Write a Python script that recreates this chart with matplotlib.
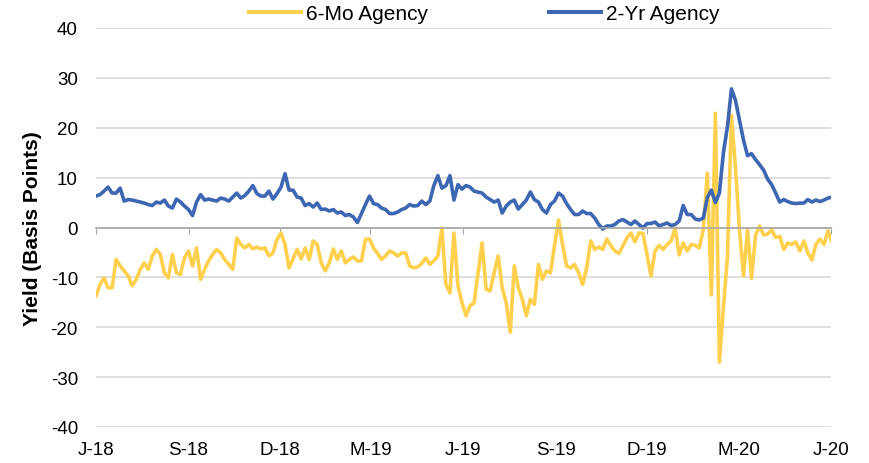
from matplotlib import pyplot as plt
import matplotlib.dates as mdates
import numpy as np
import pandas as pd

plt.rcParams['font.family'] = ['Liberation Sans', 'DejaVu Sans']
plt.rcParams['axes.unicode_minus'] = False

# spread values (bp), one point every 4 days from 1 Jun 2018
six_mo = [
    -13.7, -11.4, -10.1, -12.1, -12.1, -6.4, -7.7, -8.7, -9.7, -11.7,
    -10.4, -8.4, -7.1, -8.4, -5.7, -4.4, -5.4, -9.1, -10.1, -5.4,
    -9.1, -9.4, -6.1, -4.7, -7.7, -4.1, -10.4, -8.4, -6.7, -5.4,
    -4.4, -5.1, -6.4, -7.4, -8.4, -2.1, -3.4,
    -4.1, -3.4, -4.3, -3.9, -4.3, -4.1, -5.7, -5.1, -2.4, -1.1,
    -3.4, -8.1, -6.3, -4.4, -6.3, -4.1, -6.4, -2.7, -3.4, -7.1,
    -8.7, -7.1, -4.3, -6.4, -4.7, -7.1, -6.4, -5.9, -6.7, -6.7,
    -2.4, -2.3, -4.1, -5.2, -6.4, -5.7,
    -4.7, -5.1, -5.7, -5.1, -5.1, -7.7, -8.1, -7.9, -7.2, -6.1,
    -7.4, -6.7, -5.7, -0.1, -11.4, -13.1, -1.1, -11.7, -15.1, -17.7,
    -15.7, -15.1, -9.1, -3.1, -12.4, -12.7, -9.1, -5.7, -12.1, -15.1,
    -21.0, -7.7, -12.1, -14.4, -17.7, -14.4,
    -15.4, -7.4, -10.4, -8.7, -9.1, -3.7, 1.5, -3.4, -7.7, -8.1,
    -7.4, -9.1, -11.4, -8.1, -2.7, -4.4, -3.9, -4.4, -2.3, -3.6,
    -4.7, -5.2, -3.7, -2.1, -1.1, -2.9, -1.1, -1.2, -5.4, -9.7,
    -4.7, -3.6, -4.4, -3.4, -2.7, -0.1,
    -5.5, -3.1, -4.7, -3.4, -3.6, -4.1, -0.4, 10.9, -13.5, 22.9,
    -27.0, -16.0, -6.0, 22.5, 12.0, -0.5, -9.7, -0.5, -10.2, -1.5,
    0.3, -1.5, -1.3, -0.5, -2.0, -1.8, -4.4, -3.1, -3.4, -2.9,
    -4.7, -2.7, -5.1, -6.5, -3.4, -2.3, -3.4, -0.7, -2.9,
]

two_yr = [
    6.3, 6.6, 7.3, 8.1, 6.9, 6.9, 7.9, 5.3, 5.6, 5.5,
    5.3, 5.1, 4.9, 4.6, 4.4, 5.1, 4.9, 5.5, 4.3, 3.9,
    5.7, 5.1, 4.3, 3.6, 2.4, 5.1, 6.6, 5.5, 5.7, 5.5,
    5.3, 5.9, 5.7, 5.3, 6.1, 6.9, 5.9,
    6.4, 7.3, 8.4, 6.8, 6.3, 6.3, 7.3, 5.7, 6.8, 8.1,
    10.8, 7.5, 7.5, 6.1, 5.9, 4.4, 4.8, 4.1, 4.9, 3.6,
    3.7, 3.3, 3.6, 2.9, 3.1, 2.4, 2.6, 2.1, 1.0, 2.8,
    4.6, 6.3, 4.8, 4.6, 3.9, 3.6,
    2.8, 2.8, 3.1, 3.6, 3.9, 4.6, 4.3, 4.4, 5.3, 4.6,
    5.3, 8.4, 10.4, 7.9, 8.4, 10.4, 5.5, 8.6, 7.7, 8.4,
    8.1, 7.3, 7.1, 6.9, 6.1, 5.6, 5.1, 5.5, 2.9, 4.3,
    5.1, 5.5, 3.7, 4.6, 5.5, 7.1,
    5.6, 5.1, 3.6, 2.9, 4.6, 5.3, 6.9, 6.3, 4.8, 3.6,
    2.6, 2.6, 3.3, 2.8, 2.8, 1.9, 0.6, -0.3, 0.3, 0.3,
    0.6, 1.3, 1.6, 1.1, 0.6, 1.3, 0.6, -0.1, 0.8, 0.8,
    1.1, 0.3, 0.6, 0.9, 0.4, 0.6,
    1.3, 4.4, 2.6, 2.6, 1.7, 1.5, 1.9, 6.0, 7.5, 5.0,
    6.9, 15.0, 20.2, 27.8, 25.5, 21.5, 17.5, 14.4, 14.8, 13.6,
    12.6, 11.5, 9.7, 8.6, 6.9, 5.1, 5.6, 5.2, 4.9, 4.8,
    4.9, 4.9, 5.6, 5.1, 5.5, 5.2, 5.5, 5.9, 6.1,
]

dates = pd.date_range('2018-06-01', periods=len(two_yr), freq='4D')

tick_dates = pd.to_datetime(['2018-06-01', '2018-09-01', '2018-12-01', '2019-03-01',
                             '2019-06-01', '2019-09-01', '2019-12-01', '2020-03-01',
                             '2020-06-01'])
tick_labels = ['J-18', 'S-18', 'D-18', 'M-19', 'J-19', 'S-19', 'D-19', 'M-20', 'J-20']

fig = plt.figure(figsize=(8.7, 4.64), dpi=100)
ax = fig.add_axes([96/870, 1 - 428/464, 735/870, 399/464])

ax.plot(dates, six_mo, color='#FFD04E', lw=2.6, label='6-Mo Agency')
ax.plot(dates, two_yr, color='#3D66B3', lw=2.6, label='2-Yr Agency')

ax.set_ylim(-40, 40)
ax.set_yticks(np.arange(-40, 41, 10))
ax.set_xlim(pd.Timestamp('2018-06-01'), pd.Timestamp('2020-06-01'))
ax.grid(True, axis='y', color='#d9d9d9', lw=1.2)
ax.set_axisbelow(True)
for s in ['top', 'right', 'left']:
    ax.spines[s].set_visible(False)
ax.spines['bottom'].set_position(('data', 0))
ax.spines['bottom'].set_color('#a6a6a6')
ax.spines['bottom'].set_linewidth(1.2)

ax.set_xticks(tick_dates)
ax.tick_params(axis='x', length=4, color='#a6a6a6', labelbottom=False)
ax.tick_params(axis='y', length=0, pad=13, labelsize=13.5)

# month labels sit under the plot, not on the zero line
secax = ax.secondary_xaxis('bottom')
secax.set_xticks(mdates.date2num(tick_dates), tick_labels)
secax.tick_params(length=0, pad=10, labelsize=13.5)
secax.spines['bottom'].set_visible(False)

ax.set_ylabel('Yield (Basis Points)', fontsize=15, fontweight='bold')
ax.yaxis.set_label_coords(-0.074, 0.5)

fig.legend(loc='center', bbox_to_anchor=(484/870, 1 - 15/464), ncol=2, frameon=False,
           fontsize=15, handlelength=2.5, handletextpad=0.25, columnspacing=5.8)
for line in fig.legends[0].get_lines():
    line.set_linewidth(2.9)

plt.savefig('out.png', dpi=100)
